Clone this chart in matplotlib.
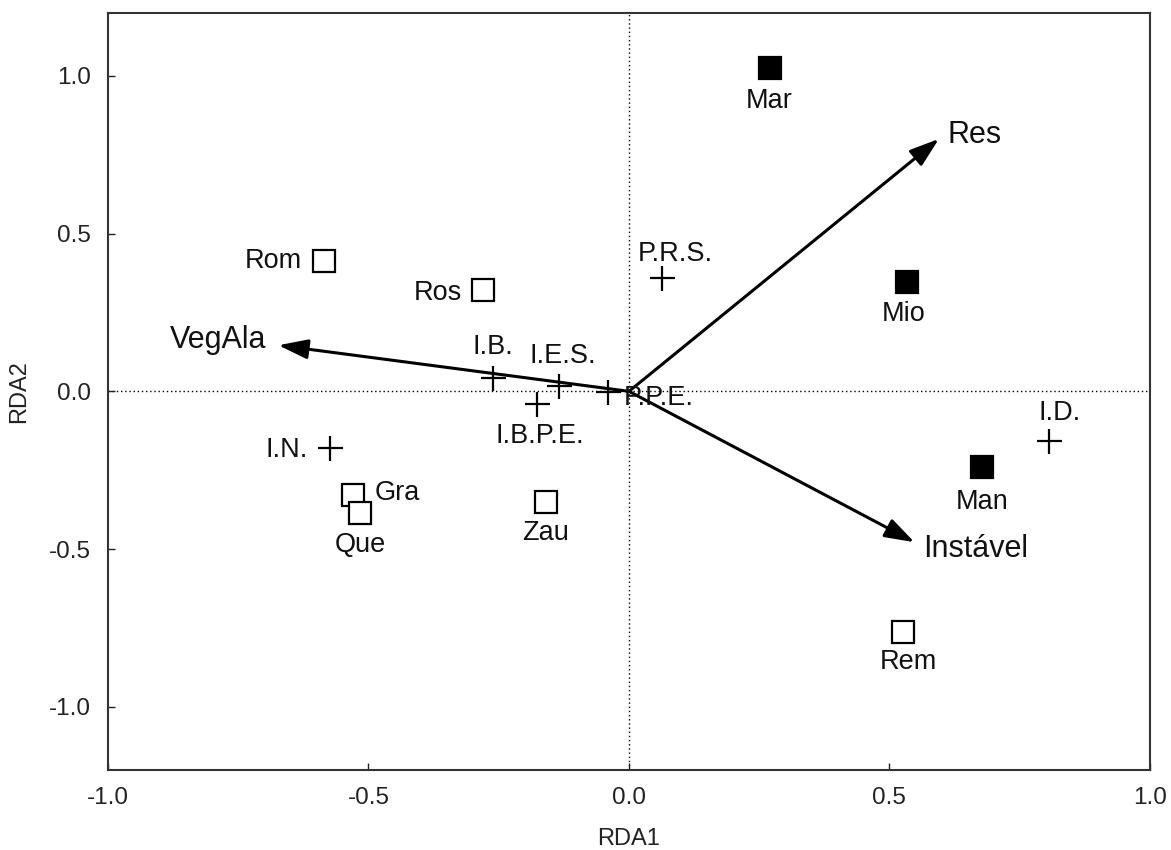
import matplotlib
matplotlib.use("Agg")
import matplotlib.pyplot as plt

plt.rcParams['font.family'] = ['Liberation Sans', 'DejaVu Sans']

# ---- data ----
open_names = ["Rom", "Ros", "Gra", "Que", "Zau", "Rem"]
open_x = [-0.585, -0.28, -0.529, -0.516, -0.16, 0.527]
open_y = [0.412, 0.32, -0.33, -0.387, -0.352, -0.764]

filled_names = ["Mar", "Mio", "Man"]
filled_x = [0.27, 0.534, 0.677]
filled_y = [1.024, 0.345, -0.241]

cross_names = ["I.N.", "I.B.", "I.E.S.", "I.B.P.E.", "P.P.E.", "P.R.S.", "I.D."]
cross_x = [-0.573, -0.26, -0.135, -0.176, -0.04, 0.063, 0.806]
cross_y = [-0.181, 0.041, 0.016, -0.041, -0.003, 0.36, -0.158]

arrow_names = ["Res", "VegAla", "Instável"]
arrow_x = [0.595, -0.673, 0.548]
arrow_y = [0.80, 0.146, -0.478]

x_ticks = [-1.0, -0.5, 0.0, 0.5, 1.0]
y_ticks = [-1.0, -0.5, 0.0, 0.5, 1.0]

# ---- label layout (pixel offsets, alignment) ----
open_off = {"Rom": (-22, 0, 'right'), "Ros": (-21, -3, 'right'), "Gra": (21, 2, 'left'),
            "Que": (0, -32, 'center'), "Zau": (0, -31, 'center'), "Rem": (5, -30, 'center')}
filled_off = {"Mar": (0, -33, 'center'), "Mio": (-4, -32, 'center'), "Man": (0, -35, 'center')}
cross_off = {"I.N.": (-23, -2, 'right'), "I.B.": (-1, 31, 'center'), "I.E.S.": (4, 30, 'center'),
             "I.B.P.E.": (3, -32, 'center'), "P.P.E.": (16, -6, 'left'),
             "P.R.S.": (14, 24, 'center'), "I.D.": (11, 28, 'center')}
arrow_off = {"Res": (9, 4, 'left'), "VegAla": (-12, 5, 'right'), "Instável": (9, -7, 'left')}

fig = plt.figure(figsize=(11.71, 8.5), dpi=100)
ax = fig.add_axes([0.0922, 0.0941, 0.8898, 0.891])
ax.set_xlim(-1.0, 1.0)
ax.set_ylim(-1.2, 1.2)

ax.axhline(0, color='black', lw=1, ls=(0, (1, 2)), zorder=1)
ax.axvline(0, color='black', lw=1, ls=(0, (1, 2)), zorder=1)

for x, y in zip(arrow_x, arrow_y):
    ax.annotate('', xy=(x, y), xytext=(0, 0),
                arrowprops=dict(arrowstyle='-|>,head_length=0.9,head_width=0.3',
                                lw=2.2, color='black', shrinkA=0, shrinkB=0,
                                mutation_scale=20), zorder=3)

ax.plot(open_x, open_y, ls='none', marker='s', ms=16.5, mfc='white', mec='black', mew=1.6, zorder=4)
ax.plot(filled_x, filled_y, ls='none', marker='s', ms=16.5, mfc='black', mec='black', mew=1.6, zorder=4)
ax.plot(cross_x, cross_y, ls='none', marker='+', ms=18, mec='black', mew=1.6, zorder=4)

pt_fs = 19.5
for names, xs, ys, offs, fs in [(open_names, open_x, open_y, open_off, pt_fs),
                                 (filled_names, filled_x, filled_y, filled_off, pt_fs),
                                 (cross_names, cross_x, cross_y, cross_off, pt_fs),
                                 (arrow_names, arrow_x, arrow_y, arrow_off, 22)]:
    for n, x, y in zip(names, xs, ys):
        dx, dy, ha = offs[n]
        ax.annotate(n, xy=(x, y), xytext=(dx, dy), textcoords='offset pixels',
                    ha=ha, va='center', fontsize=fs, color='#111111', zorder=5)

ax.set_xticks(x_ticks)
ax.set_yticks(y_ticks)
ax.set_xticklabels([f"{v:.1f}" for v in x_ticks])
ax.set_yticklabels([f"{v:.1f}" for v in y_ticks])
ax.tick_params(direction='in', length=5, width=1, labelsize=17.5, colors='#222222', pad=12)
ax.set_xlabel("RDA1", fontsize=17, color='#222222', labelpad=14)
ax.set_ylabel("RDA2", fontsize=17, color='#222222', labelpad=14)
for s in ax.spines.values():
    s.set_linewidth(1.5)
    s.set_color('#333333')

fig.savefig("out.png", dpi=100)
